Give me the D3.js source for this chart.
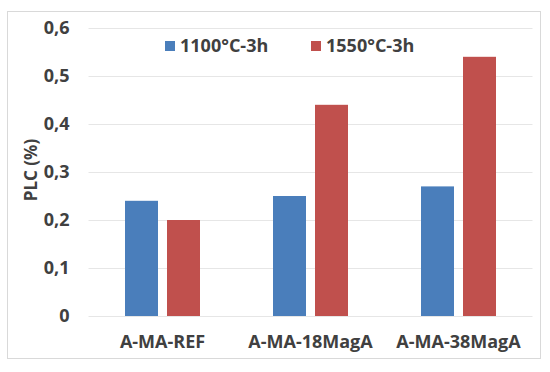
<!DOCTYPE html>
<html>
<head>
<meta charset="utf-8">
<script src="https://cdn.jsdelivr.net/npm/d3@7"></script>
<style>
  body { margin: 0; background: #fff; }
  svg text { font-family: "Open Sans", Lato, sans-serif; font-weight: bold; fill: #404040; }
</style>
</head>
<body>
<div id="chart"></div>
<script>
const categories = ["A-MA-REF", "A-MA-18MagA", "A-MA-38MagA"];
const seriesNames = ["1100°C-3h", "1550°C-3h"];
const values1100 = [0.24, 0.25, 0.27];
const values1550 = [0.20, 0.44, 0.54];
const yTicks = [0, 0.1, 0.2, 0.3, 0.4, 0.5, 0.6];

const colors = ["#4a7ebb", "#c0504d"];
const W = 550, H = 372;
const MARGINS = { left: 88.5, right: 17.5, top: 28, bottom: 56 };
const plotW = W - MARGINS.left - MARGINS.right;
const plotH = H - MARGINS.top - MARGINS.bottom;

const data = categories.map((c, i) => ({ cat: c, vals: [values1100[i], values1550[i]] }));

const svg = d3.select("#chart").append("svg")
    .attr("width", W)
    .attr("height", H);

// outer frame
svg.append("rect")
    .attr("x", 7.5).attr("y", 11.5)
    .attr("width", 533).attr("height", 347)
    .attr("fill", "none")
    .attr("stroke", "#d9d9d9");

const g = svg.append("g")
    .attr("transform", "translate(" + MARGINS.left + "," + MARGINS.top + ")");

const x0 = d3.scaleBand().domain(categories).range([0, plotW]);
const groupW = 75;
const x1 = d3.scaleBand().domain(seriesNames).range([0, groupW]).paddingInner(0.2143);
const y = d3.scaleLinear().domain([0, 0.6]).range([plotH, 0]);
const fmt = d => d === 0 ? "0" : d3.format(".1f")(d).replace(".", ",");

// gridlines
g.selectAll(".grid").data(yTicks).enter().append("line")
    .attr("x1", 0).attr("x2", plotW)
    .attr("y1", d => Math.round(y(d)) + 0.5).attr("y2", d => Math.round(y(d)) + 0.5)
    .attr("stroke", "#e6e6e6");

// y axis
const yAxis = g.append("g")
    .call(d3.axisLeft(y).tickValues(yTicks).tickFormat(fmt).tickSize(0).tickPadding(19));
yAxis.select(".domain").remove();
yAxis.selectAll("text").attr("font-size", 18).style("font-family", "'Open Sans', sans-serif").attr("fill", "#404040");

// x axis
const xAxis = g.append("g")
    .attr("transform", "translate(0," + plotH + ")")
    .call(d3.axisBottom(x0).tickSize(0).tickPadding(19));
xAxis.select(".domain").remove();
xAxis.selectAll("text").attr("font-size", 18).style("font-family", "'Open Sans', sans-serif").attr("fill", "#404040");

// bars
const groups = g.selectAll(".grp").data(data).enter().append("g")
    .attr("transform", d => "translate(" + (x0(d.cat) + (x0.bandwidth() - groupW) / 2) + ",0)");
groups.selectAll("rect").data(d => d.vals.map((v, i) => ({ s: seriesNames[i], v, i }))).enter().append("rect")
    .attr("x", d => x1(d.s))
    .attr("width", x1.bandwidth())
    .attr("y", d => y(d.v))
    .attr("height", d => plotH - y(d.v))
    .attr("fill", d => colors[d.i]);

// y title
svg.append("text")
    .attr("transform", "translate(37," + (MARGINS.top + plotH / 2 - 2) + ") rotate(-90)")
    .attr("text-anchor", "middle")
    .attr("font-size", 17)
    .text("PLC (%)");

// legend
const legendX = [165, 311];
const legend = svg.selectAll(".leg").data(seriesNames).enter().append("g")
    .attr("transform", (d, i) => "translate(" + legendX[i] + ",41)");
legend.append("rect").attr("width", 10).attr("height", 10).attr("fill", (d, i) => colors[i]);
legend.append("text").attr("x", 15).attr("y", 11).attr("font-size", 18).text(d => d);
</script>
</body>
</html>
